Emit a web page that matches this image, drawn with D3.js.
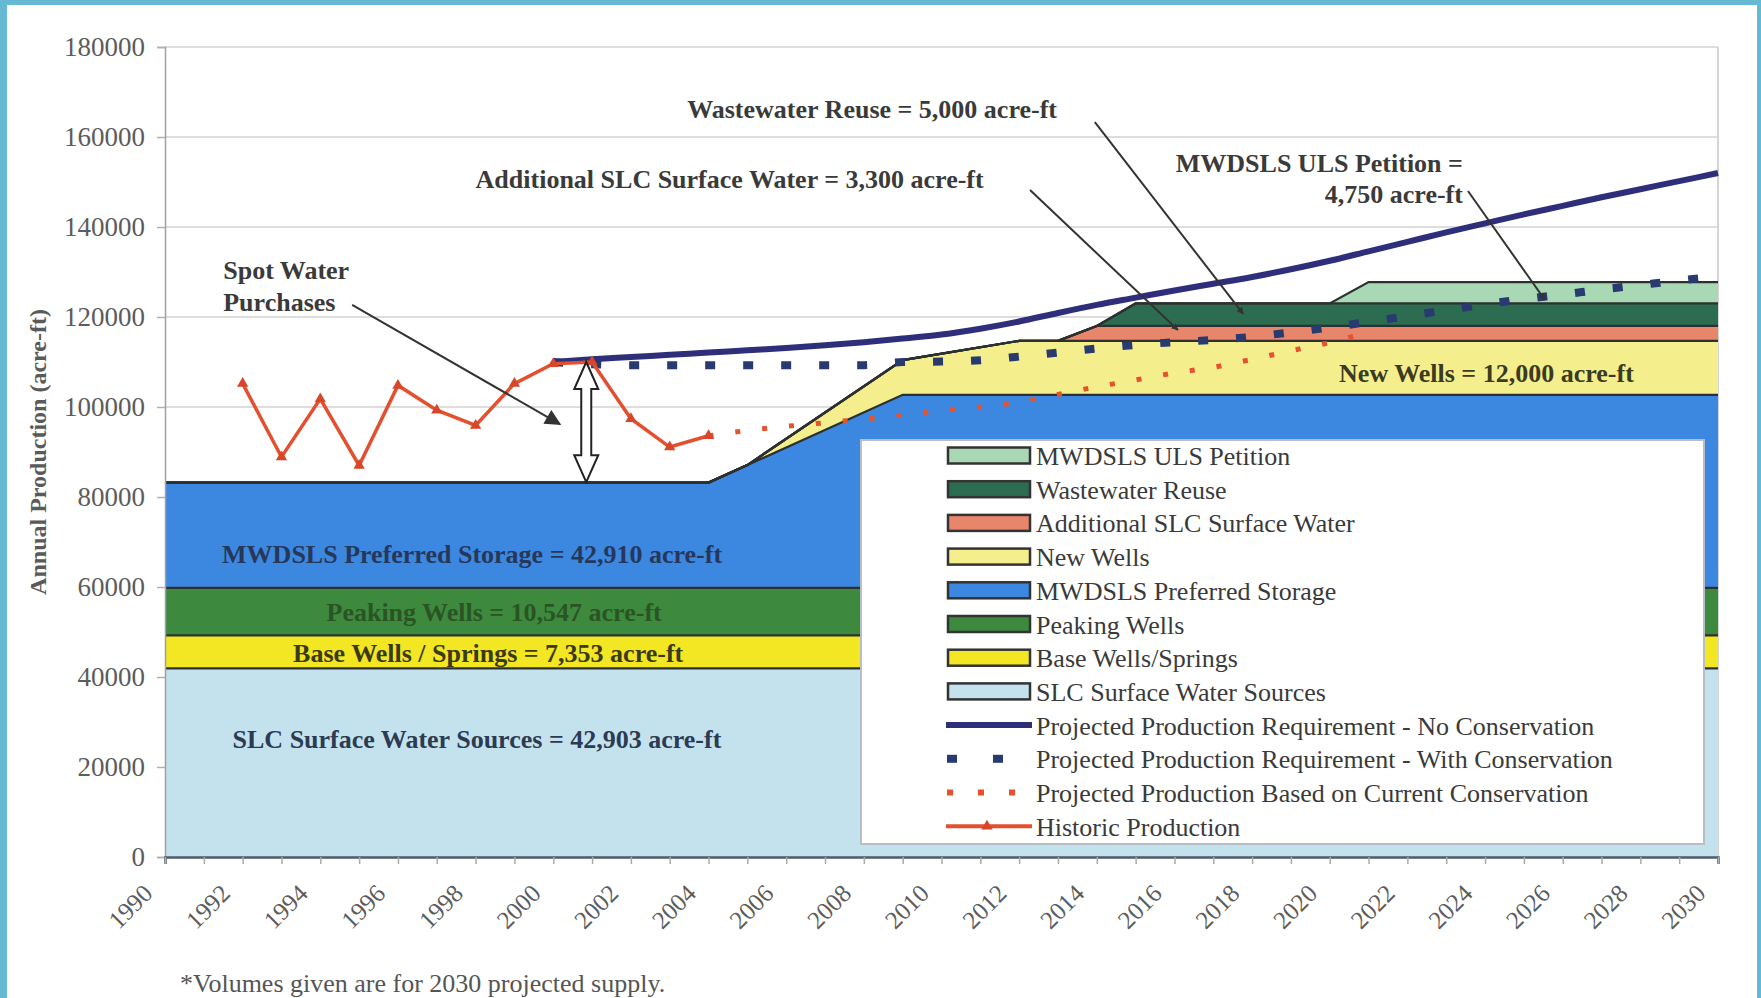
<!DOCTYPE html>
<html>
<head>
<meta charset="utf-8">
<script src="https://cdn.jsdelivr.net/npm/d3@7"></script>
<style>
  body { margin: 0; background: #fff; }
  svg { display: block; font-family: "Liberation Serif", "Times New Roman", serif; }
  svg text { font-family: "Liberation Serif", "Times New Roman", serif; }
</style>
</head>
<body>
<svg id="chart" width="1761" height="998"></svg>
<script>
// ---- supply layers (acre-ft), read at the years where the outline bends ----
const layerYears   = [1990, 2004, 2005, 2009, 2012, 2013, 2014, 2015, 2020, 2021, 2030];
const slcSurface   = [41900, 41900, 41900, 41900, 41900, 41900, 41900, 41900, 41900, 41900, 41900];
const baseWells    = [7353, 7353, 7353, 7353, 7353, 7353, 7353, 7353, 7353, 7353, 7353];
const peakingWells = [10547, 10547, 10547, 10547, 10547, 10547, 10547, 10547, 10547, 10547, 10547];
const storage      = [23400, 23400, 27300, 42910, 42910, 42910, 42910, 42910, 42910, 42910, 42910];
const newWells     = [0, 0, 0, 7700, 12000, 12000, 12000, 12000, 12000, 12000, 12000];
const addSlc       = [0, 0, 0, 0, 0, 0, 3300, 3300, 3300, 3300, 3300];
const wastewater   = [0, 0, 0, 0, 0, 0, 0, 5000, 5000, 5000, 5000];
const ulsPetition  = [0, 0, 0, 0, 0, 0, 0, 0, 0, 4750, 4750];

// ---- demand lines ----
const projYears = [2000, 2001, 2002, 2003, 2004, 2005, 2006, 2007, 2008, 2009, 2010, 2011, 2012, 2013, 2014, 2015,
                   2016, 2017, 2018, 2019, 2020, 2021, 2022, 2023, 2024, 2025, 2026, 2027, 2028, 2029, 2030];
const noConservation = [110000, 110600, 111100, 111600, 112100, 112600, 113100, 113700, 114400, 115200, 116100,
                        117400, 119000, 120900, 122700, 124300, 125900, 127400, 128900, 130600, 132500, 134600,
                        136700, 138800, 140800, 142800, 144700, 146600, 148400, 150200, 152000];
const withConservation = [110000, 109500, 109300, 109300, 109300, 109300, 109300, 109300, 109300, 110000, 110100,
                          110400, 111200, 112100, 113000, 113800, 114400, 114900, 115600, 116600, 117700, 118900,
                          120200, 121500, 122800, 124000, 125000, 126100, 127100, 128100, 129000];
const currentYears = [2004, 2005, 2006, 2007, 2008, 2009, 2010, 2011, 2012, 2013, 2014, 2015, 2016, 2017, 2018, 2019, 2020, 2021];
const currentConservation = [93600, 94800, 95700, 96500, 97300, 98200, 99200, 100000, 101000, 102800, 104500,
                             106000, 107600, 108800, 110600, 112500, 114300, 116600];
const histYears  = [1992, 1993, 1994, 1995, 1996, 1997, 1998, 1999, 2000, 2001, 2002, 2003, 2004];
const historic   = [105200, 88900, 101800, 87000, 104800, 99300, 95900, 105200, 109600, 110000, 97400, 91100, 93600];

// ---- axes ----
const yTicks = [0, 20000, 40000, 60000, 80000, 100000, 120000, 140000, 160000, 180000];
const xTickYears = [1990, 1991, 1992, 1993, 1994, 1995, 1996, 1997, 1998, 1999, 2000, 2001, 2002, 2003, 2004, 2005,
                    2006, 2007, 2008, 2009, 2010, 2011, 2012, 2013, 2014, 2015, 2016, 2017, 2018, 2019, 2020,
                    2021, 2022, 2023, 2024, 2025, 2026, 2027, 2028, 2029, 2030];
const xLabels = ["1990", "1992", "1994", "1996", "1998", "2000", "2002", "2004", "2006", "2008", "2010",
                 "2012", "2014", "2016", "2018", "2020", "2022", "2024", "2026", "2028", "2030"];

const layerKeys  = ["slc", "base", "peaking", "storage", "newWells", "addSlc", "wastewater", "uls"];
const layerNames = ["SLC Surface Water Sources", "Base Wells/Springs", "Peaking Wells", "MWDSLS Preferred Storage",
                    "New Wells", "Additional SLC Surface Water", "Wastewater Reuse", "MWDSLS ULS Petition"];
const layerColors = ["#c4e2ee", "#f3e623", "#3d8a3e", "#3c87e0", "#f4ef8c", "#e8866b", "#2c6c50", "#a8d8b4"];

const svg = d3.select("#chart");
const W = 1761, H = 998;
const serif = "'Liberation Serif', 'Times New Roman', serif";

// page frame
svg.append("rect").attr("width", W).attr("height", H).attr("fill", "#66b9d3");
svg.append("rect").attr("x", 7).attr("y", 5).attr("width", W - 11).attr("height", H - 5).attr("fill", "#fff");

const x = d3.scaleLinear().domain([1990, 2030]).range([165, 1718]);
const y = d3.scaleLinear().domain([0, 180000]).range([857, 47]);

// gridlines + plot frame
svg.append("g").selectAll("line").data(yTicks.slice(1)).join("line")
  .attr("x1", x(1990)).attr("x2", x(2030))
  .attr("y1", d => y(d)).attr("y2", d => y(d))
  .attr("stroke", "#d2d2d2").attr("stroke-width", 1.5);
svg.append("line").attr("x1", x(2030)).attr("x2", x(2030)).attr("y1", y(180000)).attr("y2", y(0))
  .attr("stroke", "#d5d5d5").attr("stroke-width", 2);

// stacked supply areas
const table = layerYears.map((yr, i) => ({
  year: yr, slc: slcSurface[i], base: baseWells[i], peaking: peakingWells[i], storage: storage[i],
  newWells: newWells[i], addSlc: addSlc[i], wastewater: wastewater[i], uls: ulsPetition[i]
}));
const stacked = d3.stack().keys(layerKeys)(table);

const area = d3.area().x(d => x(d.data.year)).y0(d => y(d[0])).y1(d => y(d[1]));
const topEdge = d3.line().x(d => x(d.data.year)).y(d => y(d[1]));

svg.append("g").selectAll("path").data(stacked).join("path")
  .attr("d", area).attr("fill", (d, i) => layerColors[i]);
svg.append("g").selectAll("path").data(stacked).join("path")
  .attr("d", topEdge).attr("fill", "none").attr("stroke", "#2c3030").attr("stroke-width", 2.2);

// axes
const yAxis = svg.append("g").attr("transform", `translate(${x(1990)},0)`)
  .call(d3.axisLeft(y).tickValues(yTicks).tickSize(8).tickPadding(12).tickFormat(d3.format("d")));
yAxis.select(".domain").attr("stroke", "#a0a0a0").attr("stroke-width", 1.5);
yAxis.selectAll(".tick line").attr("stroke", "#b0b0b0").attr("stroke-width", 1.5);
yAxis.selectAll(".tick text").style("font-family", serif).style("font-size", "27px").attr("fill", "#5c5c5c");

const xAxis = svg.append("g").attr("transform", `translate(0,${y(0)})`)
  .call(d3.axisBottom(x).tickValues(xTickYears).tickSize(7).tickFormat(""));
xAxis.select(".domain").attr("stroke", "#505a68").attr("stroke-width", 2.5);
xAxis.selectAll(".tick line").attr("stroke", "#aaaaaa").attr("stroke-width", 1.5);

svg.append("g").selectAll("text").data(xLabels).join("text")
  .attr("transform", d => `translate(${x(+d) - 11},${y(0) + 38}) rotate(-45)`)
  .attr("text-anchor", "end").attr("font-size", 25).attr("fill", "#5c5c5c").text(d => d);

svg.append("text")
  .attr("transform", `translate(46,${(y(0) + y(180000)) / 2}) rotate(-90)`)
  .attr("text-anchor", "middle").attr("font-size", 24).attr("font-weight", "bold").attr("fill", "#5a5a5a")
  .text("Annual Production (acre-ft)");

svg.append("text").attr("x", 180).attr("y", 992).attr("font-size", 26).attr("fill", "#555")
  .text("*Volumes given are for 2030 projected supply.");

// demand lines
const projNo = projYears.map((yr, i) => [yr, noConservation[i]]);
const projWith = projYears.map((yr, i) => [yr, withConservation[i]]);
const projCur = currentYears.map((yr, i) => [yr, currentConservation[i]]);
const hist = histYears.map((yr, i) => [yr, historic[i]]);
const line = d3.line().x(d => x(d[0])).y(d => y(d[1]));
const smooth = d3.line().x(d => x(d[0])).y(d => y(d[1])).curve(d3.curveMonotoneX);

svg.append("path").datum(projCur).attr("d", line).attr("fill", "none")
  .attr("stroke", "#e6522e").attr("stroke-width", 5).attr("stroke-dasharray", "5 22");
svg.append("path").datum(projWith).attr("d", smooth).attr("fill", "none")
  .attr("stroke", "#283a70").attr("stroke-width", 8).attr("stroke-dasharray", "10 28");
svg.append("path").datum(projNo).attr("d", smooth).attr("fill", "none")
  .attr("stroke", "#2e2e7a").attr("stroke-width", 6);

svg.append("path").datum(hist).attr("d", line).attr("fill", "none")
  .attr("stroke", "#e2502f").attr("stroke-width", 3.5);
svg.append("g").selectAll("path").data(hist).join("path")
  .attr("transform", d => `translate(${x(d[0])},${y(d[1])})`)
  .attr("d", d3.symbol(d3.symbolTriangle).size(55)).attr("fill", "#d8462a");

// legend
const lgX = 861, lgY = 440, lgW = 843, lgH = 404, rowH = 33.7, row0 = 455.5;
svg.append("rect").attr("x", lgX).attr("y", lgY).attr("width", lgW).attr("height", lgH)
  .attr("fill", "#fff").attr("stroke", "#b8bfc4").attr("stroke-width", 2);

const legendLabels = layerNames.slice().reverse().concat([
  "Projected Production Requirement - No Conservation",
  "Projected Production Requirement - With Conservation",
  "Projected Production Based on Current Conservation",
  "Historic Production"]);
const swatchColors = layerColors.slice().reverse();
const lg = svg.append("g");
legendLabels.forEach((label, i) => {
  const cy = row0 + i * rowH;
  if (i < 8) {
    lg.append("rect").attr("x", 948).attr("y", cy - 8).attr("width", 82).attr("height", 16)
      .attr("fill", swatchColors[i]).attr("stroke", "#333").attr("stroke-width", 2.5);
  } else if (i === 8) {
    lg.append("line").attr("x1", 946).attr("x2", 1032).attr("y1", cy).attr("y2", cy)
      .attr("stroke", "#2e2e7a").attr("stroke-width", 6);
  } else if (i === 9) {
    [952, 998].forEach(px => lg.append("rect").attr("x", px - 5).attr("y", cy - 4)
      .attr("width", 10).attr("height", 8).attr("fill", "#283a70"));
  } else if (i === 10) {
    [950, 981, 1012].forEach(px => lg.append("rect").attr("x", px - 3).attr("y", cy - 3)
      .attr("width", 6).attr("height", 6).attr("fill", "#e6522e"));
  } else {
    lg.append("line").attr("x1", 946).attr("x2", 1032).attr("y1", cy).attr("y2", cy)
      .attr("stroke", "#e2502f").attr("stroke-width", 4);
    lg.append("path").attr("transform", `translate(987,${cy})`)
      .attr("d", d3.symbol(d3.symbolTriangle).size(55)).attr("fill", "#d8462a");
  }
  lg.append("text").attr("x", 1036).attr("y", cy + 9.5).attr("font-size", 26).attr("fill", "#3a3a3a").text(label);
});

// annotations (positions in data units)
const defs = svg.append("defs");
defs.append("marker").attr("id", "head").attr("viewBox", "0 0 10 10").attr("refX", 9).attr("refY", 5)
  .attr("markerWidth", 7).attr("markerHeight", 7).attr("markerUnits", "userSpaceOnUse").attr("orient", "auto")
  .append("path").attr("d", "M0,0L10,5L0,10z").attr("fill", "#333");
defs.append("marker").attr("id", "bighead").attr("viewBox", "0 0 10 10").attr("refX", 9).attr("refY", 5)
  .attr("markerWidth", 18).attr("markerHeight", 16).attr("markerUnits", "userSpaceOnUse").attr("orient", "auto")
  .append("path").attr("d", "M0,0L10,5L0,10z").attr("fill", "#333");

const pointers = [
  { from: [1994.82, 122700], to: [2000.17, 96200], marker: "bighead" },
  { from: [2013.95, 163300], to: [2017.77, 120700], marker: "head" },
  { from: [2012.28, 148200], to: [2016.09, 117100], marker: "head" },
  { from: [2023.56, 148000], to: [2025.54, 123800], marker: "head" }
];
svg.append("g").selectAll("line").data(pointers).join("line")
  .attr("x1", d => x(d.from[0])).attr("y1", d => y(d.from[1]))
  .attr("x2", d => x(d.to[0])).attr("y2", d => y(d.to[1]))
  .attr("stroke", "#333").attr("stroke-width", 2).attr("marker-end", d => `url(#${d.marker})`);

// hollow double arrow (spot purchases gap)
const ax = x(2000.85), at = y(110000), ab = y(83300);
svg.append("path")
  .attr("d", `M${ax},${at}L${ax + 12},${at + 27}L${ax + 5},${at + 27}L${ax + 5},${ab - 27}L${ax + 12},${ab - 27}` +
             `L${ax},${ab}L${ax - 12},${ab - 27}L${ax - 5},${ab - 27}L${ax - 5},${at + 27}L${ax - 12},${at + 27}Z`)
  .attr("fill", "#fff").attr("stroke", "#222").attr("stroke-width", 2);

const notes = [
  { t: "Spot Water", at: [1991.5, 128400], anchor: "start", c: "#3a3a3a" },
  { t: "Purchases", at: [1991.5, 121300], anchor: "start", c: "#3a3a3a" },
  { t: "Wastewater Reuse = 5,000 acre-ft", at: [2003.45, 164200], anchor: "start", c: "#3a3a3a" },
  { t: "Additional SLC Surface Water = 3,300 acre-ft", at: [1998.0, 148700], anchor: "start", c: "#3a3a3a" },
  { t: "MWDSLS ULS Petition =", at: [2023.43, 152200], anchor: "end", c: "#3a3a3a" },
  { t: "4,750 acre-ft", at: [2023.43, 145300], anchor: "end", c: "#3a3a3a" },
  { t: "New Wells = 12,000 acre-ft", at: [2020.24, 105600], anchor: "start", c: "#3b3b22" },
  { t: "MWDSLS Preferred Storage = 42,910 acre-ft", at: [1991.47, 65300], anchor: "start", c: "#27375a" },
  { t: "Peaking Wells = 10,547 acre-ft", at: [1994.16, 52400], anchor: "start", c: "#2b5424" },
  { t: "Base Wells / Springs = 7,353 acre-ft", at: [1993.3, 43300], anchor: "start", c: "#3b3a12" },
  { t: "SLC Surface Water Sources = 42,903 acre-ft", at: [1991.74, 24200], anchor: "start", c: "#2c3b52" }
];
svg.append("g").selectAll("text").data(notes).join("text")
  .attr("x", d => x(d.at[0])).attr("y", d => y(d.at[1]))
  .attr("text-anchor", d => d.anchor).attr("font-size", 26).attr("font-weight", "bold")
  .attr("fill", d => d.c).text(d => d.t);
</script>
</body>
</html>
